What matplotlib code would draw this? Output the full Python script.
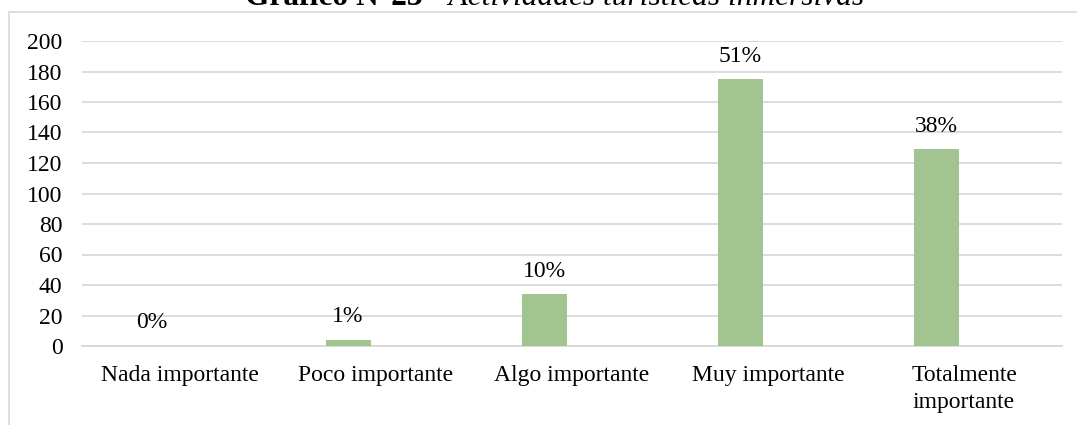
import matplotlib
matplotlib.use("Agg")
import matplotlib.pyplot as plt
from matplotlib.patches import Rectangle
import numpy as np

categories = ["Nada importante", "Poco importante", "Algo importante",
              "Muy importante", "Totalmente\nimportante"]
values = [0, 4, 34, 175, 129]
pct_labels = ["0%", "1%", "10%", "51%", "38%"]
y_ticks = list(range(0, 201, 20))
title_bold = "Gráfico N°23"
title_italic = " - Actividades turísticas inmersivas"

W, H = 1077, 425
plt.rcParams['font.family'] = ['Liberation Serif', 'DejaVu Serif']
fig = plt.figure(figsize=(W / 100, H / 100), dpi=100)

# outer frame
fig.add_artist(Rectangle((9 / W, -0.05), 1.2, 1 - 12 / H + 0.05,
                         transform=fig.transFigure, fill=False,
                         edgecolor='#d9d9d9', lw=1.2))

ax = fig.add_axes([82 / W, 1 - 346 / H, 980 / W, 305 / H])
ax.set_facecolor('none')
x = np.arange(len(categories))
offset = -28 / 196
ax.bar(x + offset, values, width=45 / 196, color='#A1C490', zorder=3)
for xi, v, lab in zip(x, values, pct_labels):
    ax.annotate(lab, (xi + offset, v), xytext=(0, 9), textcoords='offset points',
                ha='center', va='bottom', fontsize=17, color='black')

ax.set_xlim(-0.5, 4.5)
ax.set_ylim(0, 200)
ax.set_yticks(y_ticks)
ax.set_xticks(x)
ax.set_xticklabels(categories, fontsize=17, linespacing=1.35)
ax.tick_params(axis='y', length=0, pad=14, labelsize=17)
ax.tick_params(axis='x', length=0, pad=14)
ax.grid(axis='y', color='#d9d9d9', lw=1.3, zorder=0)
for s in ['top', 'right', 'left']:
    ax.spines[s].set_visible(False)
ax.spines['bottom'].set_color('#d9d9d9')
ax.spines['bottom'].set_linewidth(1.3)

# title (cropped at top, as in the reference)
t1 = fig.text(245 / W, 1 - 5 / H, title_bold, fontsize=22.6, fontweight='bold',
              ha='left', va='baseline')
fig.canvas.draw()
bb = t1.get_window_extent()
fig.text(bb.x1 / W, 1 - 5 / H, title_italic, fontsize=22.6, fontstyle='italic',
         ha='left', va='baseline')

fig.savefig('out.png', dpi=100)
